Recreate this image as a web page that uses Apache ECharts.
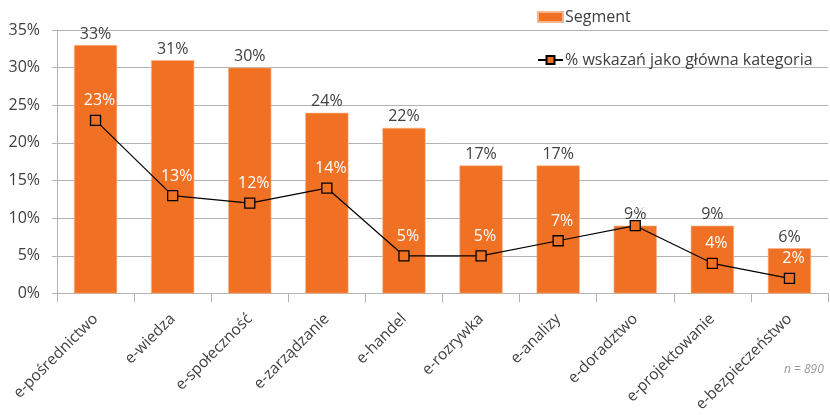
<!DOCTYPE html>
<html>
<head>
<meta charset="utf-8">
<script src="https://cdn.jsdelivr.net/npm/echarts@6/dist/echarts.min.js"></script>
<style>
  html, body { margin: 0; padding: 0; background: #ffffff; }
  #chart { width: 830px; height: 415px; }
</style>
</head>
<body>
<div id="chart"></div>
<script>
// Segment categories (x axis)
const categories = [
  'e-pośrednictwo', 'e-wiedza', 'e-społeczność', 'e-zarządzanie', 'e-handel',
  'e-rozrywka', 'e-analizy', 'e-doradztwo', 'e-projektowanie', 'e-bezpieczeństwo'
];
// Share of each segment (%)
const segmentValues = [33, 31, 30, 24, 22, 17, 17, 9, 9, 6];
// Share of answers naming the segment as the main category (%)
const mainCategoryValues = [23, 13, 12, 14, 5, 5, 7, 9, 4, 2];
// Y axis ticks (%)
const yTicks = [0, 5, 10, 15, 20, 25, 30, 35];

const seriesNames = ['Segment', '% wskazań jako główna kategoria'];
const sampleNote = 'n = 890';

const ORANGE = '#F07123';
const TEXT = '#404040';
const GRID = '#B3B3B3';
const FONT = '"Open Sans", "Noto Sans", sans-serif';

const chart = echarts.init(document.getElementById('chart'), null, { renderer: 'canvas' });

chart.setOption({
  animation: false,
  textStyle: { fontFamily: FONT },
  grid: { left: 57, right: 2, top: 30, bottom: 119 },
  legend: {
    orient: 'vertical',
    left: 532,
    top: 4,
    itemGap: 27,
    itemWidth: 25,
    itemHeight: 10,
    textStyle: { fontFamily: FONT, fontSize: 16, color: TEXT, padding: [0, 0, 0, -3] },
    data: [
      { name: seriesNames[0], icon: 'rect' },
      { name: seriesNames[1] }
    ]
  },
  graphic: [{
    type: 'text',
    left: 784,
    top: 364,
    style: { text: sampleNote, fontFamily: FONT, fontSize: 12, fontStyle: 'italic', fill: '#999999' }
  }],
  xAxis: {
    type: 'category',
    data: categories,
    axisLine: { lineStyle: { color: GRID, width: 1 } },
    axisTick: { show: true, length: 9, lineStyle: { color: GRID } },
    axisLabel: {
      rotate: 45,
      margin: 23,
      interval: 0,
      fontSize: 15.5,
      color: TEXT,
      fontFamily: FONT
    }
  },
  yAxis: {
    type: 'value',
    min: yTicks[0],
    max: yTicks[yTicks.length - 1],
    interval: yTicks[1] - yTicks[0],
    axisLine: { show: true, lineStyle: { color: GRID } },
    axisTick: { show: true, length: 5, lineStyle: { color: GRID } },
    splitLine: { lineStyle: { color: GRID, width: 1 } },
    axisLabel: {
      margin: 17,
      fontSize: 16,
      color: TEXT,
      fontFamily: FONT,
      formatter: v => v + '%'
    }
  },
  series: [
    {
      name: seriesNames[0],
      type: 'bar',
      data: segmentValues,
      barWidth: '56%',
      itemStyle: { color: ORANGE, borderColor: '#F6B58C', borderWidth: 0.6 },
      label: {
        show: true,
        position: 'top',
        distance: 3,
        fontSize: 16,
        color: TEXT,
        fontFamily: FONT,
        formatter: p => p.value + '%'
      },
      z: 2
    },
    {
      name: seriesNames[1],
      type: 'line',
      data: mainCategoryValues,
      symbol: 'rect',
      symbolSize: 10,
      lineStyle: { color: '#000000', width: 1.2 },
      itemStyle: { color: ORANGE, borderColor: '#000000', borderWidth: 1.3 },
      label: {
        show: true,
        position: 'top',
        distance: 6,
        offset: [4, 0],
        fontSize: 16,
        color: '#ffffff',
        fontFamily: FONT,
        formatter: p => p.value + '%'
      },
      z: 3
    }
  ]
});
</script>
</body>
</html>
